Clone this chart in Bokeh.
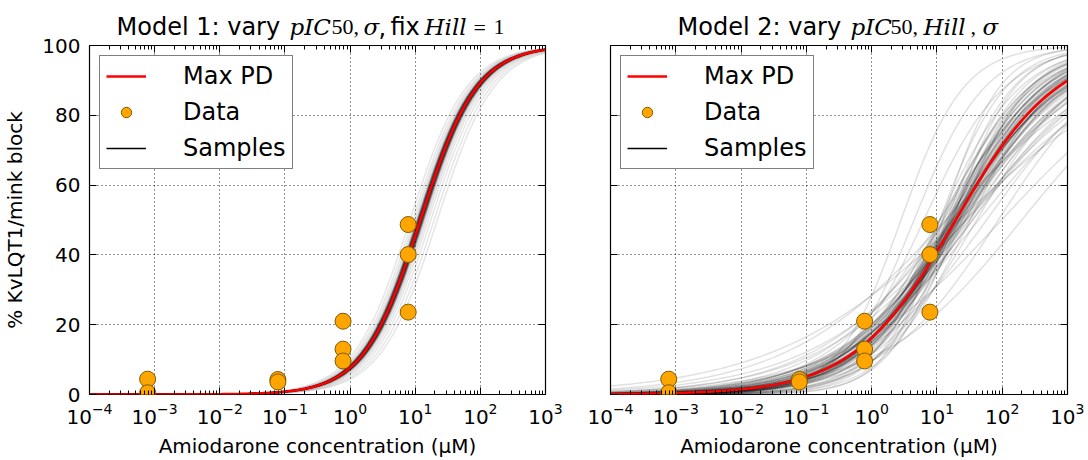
import numpy as np
from bokeh.plotting import figure
from bokeh.models import (FixedTicker, LogAxis, LinearAxis, Legend, LegendItem,
                          CustomJSTickFormatter)
from bokeh.core.properties import value
from bokeh.layouts import row, column
from bokeh.embed import file_html
from bokeh.resources import INLINE

# ---------------- data ----------------
data_conc = [0.00078, 0.00078, 0.078, 0.078, 0.78, 0.78, 0.78, 7.8, 7.8, 7.8]
data_block = [4.4, 0.5, 4.3, 3.6, 21.0, 13.0, 9.6, 48.7, 40.1, 23.6]

# Model 1 (Hill fixed at 1): best fit and posterior samples of log10 IC50 (uM)
m1_best_log_ic50 = 1.08
m1_best_hill = 1.0
m1_core_log_ic50 = [1.03, 1.04, 1.05, 1.05, 1.06, 1.06, 1.07, 1.07, 1.07, 1.08,
                    1.08, 1.08, 1.08, 1.09, 1.09, 1.09, 1.10, 1.10, 1.11, 1.11,
                    1.12, 1.13]
m1_tail_log_ic50 = [0.92, 0.96, 0.99, 1.01, 1.15, 1.17, 1.20, 1.24, 1.29, 1.34]

# Model 2: best fit and posterior samples of (Hill, log10 IC50)
m2_best_log_ic50 = 1.286
m2_best_hill = 0.554
m2_sample_hill = [0.55, 0.55, 0.56, 0.57, 0.54, 0.58, 0.53, 0.60, 0.52, 0.50,
                  0.60, 0.50, 0.62, 0.48, 0.65, 0.45, 0.65, 0.45, 0.55, 0.55,
                  0.75, 0.75, 0.70, 0.42, 0.40, 0.38, 0.35, 0.35, 0.85, 0.85,
                  0.80, 0.65, 0.55, 0.45, 0.45, 0.70, 0.60, 0.50, 0.40, 0.90,
                  0.90, 0.80, 0.70, 0.40, 0.35, 0.50, 1.00, 0.30, 0.58, 0.52,
                  0.50, 0.52, 0.53, 0.54, 0.56, 0.57, 0.58, 0.59, 0.60, 0.61,
                  0.63, 0.64, 0.47, 0.48, 0.49, 0.51, 0.66, 0.68, 0.44, 0.46,
                  0.57, 0.55, 0.62, 0.53, 0.58, 0.72, 0.43, 0.66, 0.50, 0.60]
m2_sample_log_ic50 = [1.26, 1.29, 1.28, 1.24, 1.31, 1.22, 1.34, 1.19, 1.36, 1.34,
                      1.26, 1.24, 1.16, 1.39, 1.21, 1.33, 1.08, 1.54, 1.43, 1.10,
                      1.18, 1.30, 1.04, 1.49, 1.64, 1.44, 1.45, 1.14, 1.15, 1.04,
                      1.34, 1.51, 1.61, 1.76, 1.14, 1.39, 1.44, 1.04, 1.24, 1.24,
                      0.45, 0.65, 0.80, 2.30, 1.99, 1.94, 1.09, 1.34, 1.30, 1.28,
                      1.25, 1.28, 1.22, 1.33, 1.30, 1.27, 1.32, 1.24, 1.30, 1.20,
                      1.25, 1.18, 1.30, 1.42, 1.22, 1.38, 1.29, 1.20, 1.36, 1.45,
                      1.36, 1.18, 1.34, 1.40, 1.14, 1.22, 1.55, 1.10, 1.50, 1.05]

x_ticks = [1e-4, 1e-3, 1e-2, 1e-1, 1e0, 1e1, 1e2, 1e3]
x_minor = [k * 10.0 ** e for e in range(-4, 3) for k in range(2, 10)]
y_ticks = [0, 20, 40, 60, 80, 100]

SANS = "DejaVu Sans"
SERIF_IT = "DejaVu Serif"
SERIF = "Liberation Serif"
# title pieces: (text, left pixel on page, font, style, size)
title1 = [("Model 1: vary", 116, SANS, "normal", 24),
          ("pIC", 289, SERIF_IT, "italic", 23),
          ("50", 331, SERIF, "normal", 22),
          (",", 353, SERIF, "normal", 22),
          ("\u03c3", 363, SERIF_IT, "italic", 23),
          (",", 378, SANS, "normal", 24),
          ("fix", 390, SANS, "normal", 24),
          ("Hill", 424, SERIF_IT, "italic", 23),
          ("=", 473, SERIF, "normal", 22),
          ("1", 493, SERIF, "normal", 22)]
title2 = [("Model 2: vary", 677, SANS, "normal", 24),
          ("pIC", 850, SERIF_IT, "italic", 23),
          ("50", 890, SERIF, "normal", 22),
          (",", 912, SERIF, "normal", 22),
          ("Hill", 923, SERIF_IT, "italic", 23),
          (",", 970, SERIF, "normal", 22),
          ("\u03c3", 982, SERIF_IT, "italic", 23)]
TITLE_BASELINE = 34.5

conc = np.logspace(-4, 3, 240)


def hill_curve(log_ic50, hill):
    ic50 = 10.0 ** log_ic50
    return 100.0 * conc ** hill / (conc ** hill + ic50 ** hill)


TITLE_H = 45
OVERLAP = 12
PLOT_H = 460 - TITLE_H + OVERLAP
FRAME_H = 350


def make_fig(width, left, right, show_ylabels):
    p = figure(width=width, height=PLOT_H, x_axis_type="log", x_range=(1e-4, 1e3), y_range=(0, 100),
               output_backend="svg", toolbar_location=None,
               min_border_left=left, min_border_right=right, min_border_top=OVERLAP,
               min_border_bottom=PLOT_H - OVERLAP - FRAME_H)
    p.background_fill_color = "white"
    p.border_fill_color = "white"
    p.border_fill_alpha = 0.0
    p.outline_line_color = "black"
    p.outline_line_width = 1.2
    xt = FixedTicker(ticks=x_ticks, minor_ticks=x_minor)
    yt = FixedTicker(ticks=y_ticks)
    for ax in p.xaxis:
        ax.ticker = xt
    for ax in p.yaxis:
        ax.ticker = yt
    p.xgrid.ticker = xt
    p.ygrid.ticker = yt
    for g in (p.xgrid, p.ygrid):
        g.grid_line_color = "black"
        g.grid_line_dash = "1 3"
        g.grid_line_alpha = 0.85
        g.grid_line_width = 1
    for ax in list(p.xaxis) + list(p.yaxis):
        ax.axis_line_color = None
        ax.major_tick_in = 7
        ax.major_tick_out = 0
        ax.minor_tick_in = 4
        ax.minor_tick_out = 0
        ax.major_tick_line_color = "black"
        ax.minor_tick_line_color = "black"
        ax.major_label_text_font = SANS
        ax.major_label_text_font_size = "20px"
        ax.major_label_text_color = "black"
        ax.axis_label_text_font = SANS
        ax.axis_label_text_font_size = "20px"
        ax.axis_label_text_font_style = "normal"
        ax.axis_label_text_color = "black"
    p.xaxis.axis_label = "Amiodarone concentration (\u03bcM)"
    p.xaxis.major_label_standoff = 8
    p.xaxis.axis_label_standoff = 7
    if show_ylabels:
        p.yaxis.axis_label = "% KvLQT1/mink block"
        p.yaxis.major_label_standoff = 9
        p.yaxis.axis_label_standoff = 12
    else:
        p.yaxis.formatter = CustomJSTickFormatter(code="return ''")
        p.yaxis.major_label_standoff = 0
    top = LogAxis(ticker=xt, formatter=CustomJSTickFormatter(code="return ''"), axis_line_color=None,
                  major_tick_in=7, major_tick_out=0, minor_tick_in=4, minor_tick_out=0,
                  major_label_standoff=0, major_label_text_font_size="0px")
    rgt = LinearAxis(ticker=yt, formatter=CustomJSTickFormatter(code="return ''"), axis_line_color=None,
                     major_tick_in=7, major_tick_out=0, minor_tick_in=0, minor_tick_out=0,
                     major_label_standoff=0, major_label_text_font_size="0px")
    p.add_layout(top, "above")
    p.add_layout(rgt, "right")
    return p


def fill_fig(p, groups, best_curve):
    for curves, alpha in groups:
        p.multi_line(xs=[list(conc)] * len(curves), ys=[list(c) for c in curves],
                     line_color="black", line_alpha=alpha, line_width=1.5)
    blk = p.line(conc, best_curve, line_color="black", line_width=1.6)
    red = p.line(conc, best_curve, line_color="#ff0000", line_width=2.6)
    pts = p.scatter(data_conc, data_block, size=16, fill_color="#ffa500", line_color="#7d5c00",
                    line_width=1)
    legend = Legend(items=[LegendItem(label="Max PD", renderers=[red]),
                           LegendItem(label="Data", renderers=[pts]),
                           LegendItem(label="Samples", renderers=[blk])],
                    location="top_left", margin=10, padding=6, spacing=8,
                    label_height=26, glyph_height=26, glyph_width=40, label_standoff=37,
                    label_text_font=SANS, label_text_font_size="24px", label_text_color="black",
                    border_line_color="black", border_line_width=1.2,
                    background_fill_color="white", background_fill_alpha=1.0)
    p.add_layout(legend)


# ---------------- title strip ----------------
pt = figure(width=1084, height=TITLE_H, x_range=(0, 1084), y_range=(0, TITLE_H),
            output_backend="svg", toolbar_location=None, x_axis_location=None, y_axis_location=None,
            min_border=0, min_border_left=0, min_border_right=0, min_border_top=0, min_border_bottom=0)
pt.outline_line_color = None
pt.xgrid.visible = False
pt.ygrid.visible = False
for segs in (title1, title2):
    for text, px, font, style, size in segs:
        ymid = TITLE_H - (TITLE_BASELINE - 0.345 * size)
        pt.text(x=[px], y=[ymid], text=[text], text_font=value(font),
                text_font_style=style, text_font_size=f"{size}px", text_baseline="middle",
                text_align="left", text_color="black")

# ---------------- left figure ----------------
p1 = make_fig(570, 89, 25, True)
fill_fig(p1, [([hill_curve(v, m1_best_hill) for v in m1_core_log_ic50], 0.3),
              ([hill_curve(v, m1_best_hill) for v in m1_tail_log_ic50], 0.1)],
         hill_curve(m1_best_log_ic50, m1_best_hill))

# ---------------- right figure ----------------
p2 = make_fig(514, 40, 17, False)
fill_fig(p2, [([hill_curve(l, h) for h, l in zip(m2_sample_hill, m2_sample_log_ic50)], 0.12)],
         hill_curve(m2_best_log_ic50, m2_best_hill))

plots = row(p1, p2, margin=(-OVERLAP, 0, 0, 0))
layout = column(pt, plots)
open("out.html", "w").write(file_html(layout, INLINE))
